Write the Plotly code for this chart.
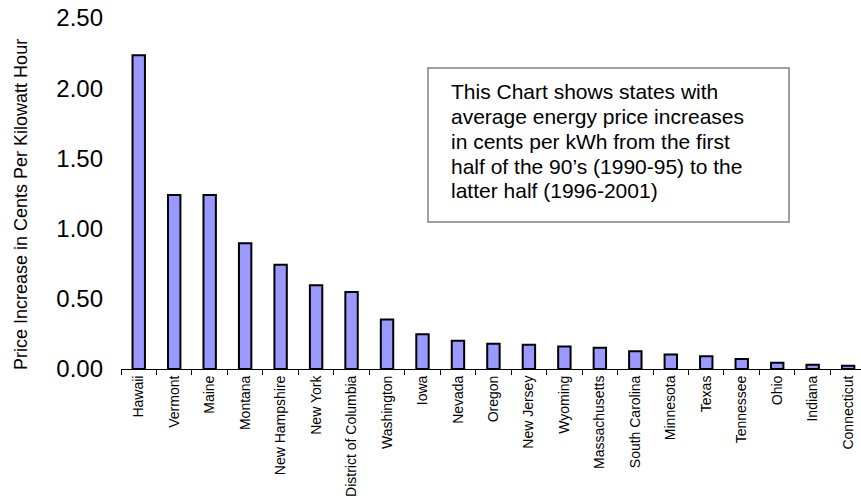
import plotly.graph_objects as go

states = ["Hawaii", "Vermont", "Maine", "Montana", "New Hampshire", "New York",
          "District of Columbia", "Washington", "Iowa", "Nevada", "Oregon",
          "New Jersey", "Wyoming", "Massachusetts", "South Carolina", "Minnesota",
          "Texas", "Tennessee", "Ohio", "Indiana", "Connecticut"]
increase = [2.235, 1.24, 1.24, 0.895, 0.743, 0.597, 0.548, 0.352, 0.247, 0.202,
            0.179, 0.172, 0.160, 0.152, 0.126, 0.103, 0.091, 0.072, 0.044, 0.030, 0.023]

y_ticks = [0, 0.5, 1.0, 1.5, 2.0, 2.5]
y_title = "Price Increase in Cents Per Kilowatt Hour"
note_lines = ["This Chart shows states with",
              "average energy price increases",
              "in cents per kWh from the first",
              "half of the 90\u2019s (1990-95) to the",
              "latter half (1996-2001)"]

W, H = 861, 502
ML, MR, MT, MB = 121, 0, 18, 133
PW, PH = W - ML - MR, H - MT - MB


def px(x):
    return (x - ML) / PW


def py(y):
    return (H - MB - y) / PH


FONT = "Arial, Liberation Sans, sans-serif"

fig = go.Figure(go.Bar(
    x=states, y=increase,
    marker=dict(color="#9999ff", line=dict(color="black", width=2)),
))

annotations = [dict(
    text=y_title, textangle=-90, xref="paper", yref="paper",
    x=px(21), y=py(205), xanchor="center", yanchor="middle",
    showarrow=False, font=dict(family=FONT, size=18, color="black"))]
for i, line in enumerate(note_lines):
    annotations.append(dict(
        text=line, xref="paper", yref="paper",
        x=px(449), y=py(91.7 + 24.8 * i), xanchor="left", yanchor="middle",
        showarrow=False, font=dict(family=FONT, size=21, color="black")))

fig.update_layout(
    width=W, height=H,
    margin=dict(l=ML, r=MR, t=MT, b=MB),
    paper_bgcolor="white", plot_bgcolor="white",
    bargap=0.65, showlegend=False,
    font=dict(family=FONT, color="black"),
    xaxis=dict(type="category", range=[-0.5, -0.5 + PW / 35.47],
               showline=True, linecolor="black", linewidth=1,
               ticks="outside", tickson="boundaries", ticklen=5,
               tickcolor="black", tickwidth=1, tickangle=-90,
               tickfont=dict(family=FONT, size=14, color="black"),
               showgrid=False, zeroline=False),
    yaxis=dict(range=[0, 2.5], tickvals=y_ticks, tickformat=".2f",
               showline=False, ticks="", showgrid=False, zeroline=False,
               ticklabelstandoff=17,
               tickfont=dict(family=FONT, size=24, color="black")),
    annotations=annotations,
    shapes=[dict(type="rect", xref="paper", yref="paper",
                 x0=px(428), x1=px(789), y0=py(222), y1=py(68),
                 line=dict(color="#a0a0a0", width=2), fillcolor="white",
                 layer="below")],
)

fig.write_html("out.html")
